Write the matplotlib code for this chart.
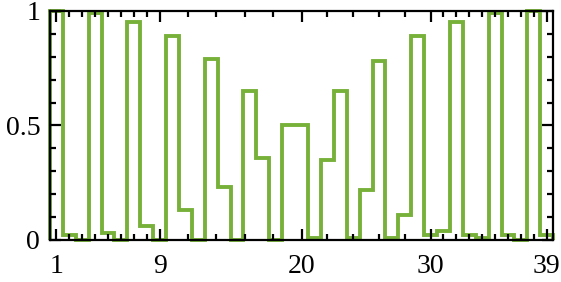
import matplotlib
matplotlib.use("Agg")
import matplotlib.pyplot as plt
import numpy as np

# one value per index 1..39
idx = np.arange(1, 40)
vals = [1.0, 0.02, 0.0, 0.99, 0.03, 0.0, 0.95, 0.06, 0.0, 0.89,
        0.13, 0.0, 0.79, 0.23, 0.0, 0.65, 0.36, 0.0, 0.50, 0.50,
        0.01, 0.35, 0.65, 0.01, 0.22, 0.78, 0.01, 0.11, 0.89, 0.02,
        0.04, 0.95, 0.02, 0.01, 0.99, 0.02, 0.0, 1.0, 0.02]

xmajor = [1, 9, 20, 30, 39]
xminor = list(range(2, 9)) + [11.2, 13.4, 15.6, 17.8] + [22, 24, 26, 28] + list(range(31, 39))
ymajor = [0, 0.5, 1]
ymajor_lbl = ["0", "0.5", "1"]

plt.rcParams["font.family"] = ["Liberation Serif", "DejaVu Serif"]

fig = plt.figure(figsize=(5.61, 2.82), dpi=100)
ax = fig.add_axes([0.089, 0.149, 0.897, 0.812])

edges = np.append(idx - 0.5, idx[-1] + 0.5)
ax.stairs(vals, edges, baseline=0, color="#78b13a", linewidth=2.8, clip_on=False)

ax.set_xlim(0.5, 39.5)
ax.set_ylim(0, 1)

ax.set_xticks(xmajor)
ax.set_xticks(xminor, minor=True)
ax.set_yticks(ymajor)
ax.set_yticklabels(ymajor_lbl)
ax.set_yticks(np.arange(0.1, 1.0, 0.1), minor=True)

ax.tick_params(which="both", direction="in", top=True, right=True, width=1.6, labelsize=20)
ax.tick_params(which="major", length=8)
ax.tick_params(axis="x", which="major", pad=10)
ax.tick_params(axis="y", which="major", pad=7)
ax.tick_params(which="minor", length=4)

for s in ax.spines.values():
    s.set_linewidth(1.6)

fig.savefig("out.png", dpi=100)
